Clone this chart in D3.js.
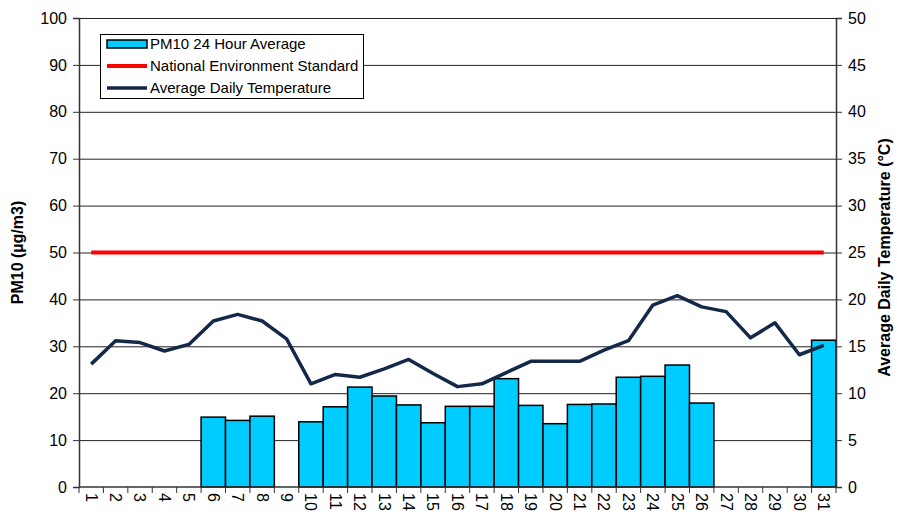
<!DOCTYPE html>
<html><head><meta charset="utf-8">
<script src="https://cdn.jsdelivr.net/npm/d3@7"></script>
<style>body{margin:0;background:#fff}svg{display:block;font-family:"Liberation Sans",Arial,sans-serif}</style>
</head><body><svg id="c" width="897" height="520"></svg>
<script>
const days = d3.range(1, 32).map(String);
const pm10 = [null,null,null,null,null,14.9,14.2,15.1,null,13.9,17.1,21.3,19.4,17.5,13.7,17.2,17.2,23.1,17.4,13.5,17.6,17.7,23.4,23.6,26.0,17.9,null,null,null,null,31.3];
const standard = 50;
const temperature = [13.1,15.6,15.4,14.5,15.2,17.7,18.4,17.7,15.8,11.0,12.0,11.7,12.6,13.6,12.1,10.7,11.0,12.2,13.4,13.4,13.4,14.6,15.6,19.4,20.4,19.2,18.7,15.9,17.5,14.1,15.1];
const leftTicks = d3.range(0, 101, 10);
const rightTicks = d3.range(0, 51, 5);
const legendItems = ["PM10 24 Hour Average","National Environment Standard","Average Daily Temperature"];

const svg = d3.select("#c");
const L = 79, R = 836, T = 18, B = 487;
const x = d3.scaleBand().domain(days).range([L, R]).padding(0);
const y = d3.scaleLinear().domain([0, 100]).range([B, T]);
const y2 = d3.scaleLinear().domain([0, 50]).range([B, T]);
const cx = d => x(d) + x.bandwidth() / 2;

// grid
svg.append("g").selectAll("line").data(leftTicks.filter(t => t > 0)).join("line")
  .attr("x1", L).attr("x2", R).attr("y1", d => y(d) + 0.5).attr("y2", d => y(d) + 0.5)
  .attr("stroke", "#222").attr("stroke-width", 1);

// bars
svg.append("g").selectAll("rect").data(days.map((d, i) => ({d, v: pm10[i]})).filter(o => o.v != null)).join("rect")
  .attr("x", o => x(o.d)).attr("width", x.bandwidth())
  .attr("y", o => y(o.v)).attr("height", o => y(0) - y(o.v))
  .attr("fill", "#00ccff").attr("stroke", "#000").attr("stroke-width", 1.5);

// standard line
svg.append("line").attr("x1", cx(days[0])).attr("x2", cx(days[30]))
  .attr("y1", y(standard)).attr("y2", y(standard))
  .attr("stroke", "#ff0000").attr("stroke-width", 4);

// temperature line
svg.append("path").datum(temperature)
  .attr("d", d3.line().x((v, i) => cx(days[i])).y(v => y2(v)))
  .attr("fill", "none").attr("stroke", "#14294a").attr("stroke-width", 3.5).attr("stroke-linejoin", "round");

// axes
const fs = "16px";
const gl = svg.append("g").attr("transform", `translate(${L},0)`)
  .call(d3.axisLeft(y).tickValues(leftTicks).tickSize(6).tickPadding(6));
const gr = svg.append("g").attr("transform", `translate(${R},0)`)
  .call(d3.axisRight(y2).tickValues(rightTicks).tickSize(6).tickPadding(6));
const gx = svg.append("g").attr("transform", `translate(0,${B})`)
  .call(d3.axisBottom(x).tickSize(0).tickPadding(0));
[gl, gr, gx].forEach(g => {
  g.selectAll("text").attr("font-size", fs).attr("fill", "#000").attr("font-family", "Liberation Sans, Arial, sans-serif");
  g.select(".domain").attr("stroke", "#333").attr("stroke-width", 1.5);
  g.selectAll(".tick line").attr("stroke", "#333");
});
gx.select(".domain").attr("d", `M${L},0H${R}`);
gx.selectAll(".tick text").attr("transform", "rotate(90)").attr("text-anchor", "start")
  .attr("x", 6).attr("y", 0).attr("dy", "0.35em");
// x ticks at band boundaries
svg.append("g").selectAll("line").data(d3.range(0, 32)).join("line")
  .attr("x1", i => L + i * x.bandwidth()).attr("x2", i => L + i * x.bandwidth())
  .attr("y1", B).attr("y2", B + 6).attr("stroke", "#333").attr("stroke-width", 1);

// axis titles
svg.append("text").attr("transform", `translate(23,${(T + B) / 2}) rotate(-90)`)
  .attr("text-anchor", "middle").attr("font-size", "16px").attr("font-weight", "bold").text("PM10 (µg/m3)");
svg.append("text").attr("transform", `translate(890,${(T + B) / 2 + 5}) rotate(-90)`)
  .attr("text-anchor", "middle").attr("font-size", "16px").attr("font-weight", "bold").text("Average Daily Temperature (°C)");

// legend
const lg = svg.append("g");
lg.append("rect").attr("x", 100.5).attr("y", 34.5).attr("width", 263).attr("height", 64)
  .attr("fill", "#fff").attr("stroke", "#000").attr("stroke-width", 1);
const rows = [44, 66, 88];
lg.append("rect").attr("x", 107).attr("y", 40).attr("width", 40).attr("height", 8)
  .attr("fill", "#00ccff").attr("stroke", "#000").attr("stroke-width", 1.5);
lg.append("line").attr("x1", 107).attr("x2", 147).attr("y1", rows[1]).attr("y2", rows[1]).attr("stroke", "#ff0000").attr("stroke-width", 4);
lg.append("line").attr("x1", 107).attr("x2", 147).attr("y1", rows[2]).attr("y2", rows[2]).attr("stroke", "#14294a").attr("stroke-width", 3.5);
lg.selectAll("text.l").data(legendItems).join("text").attr("class", "l")
  .attr("x", 150).attr("y", (d, i) => rows[i]).attr("dy", "0.35em")
  .attr("font-size", "15px").text(d => d);
</script></body></html>
